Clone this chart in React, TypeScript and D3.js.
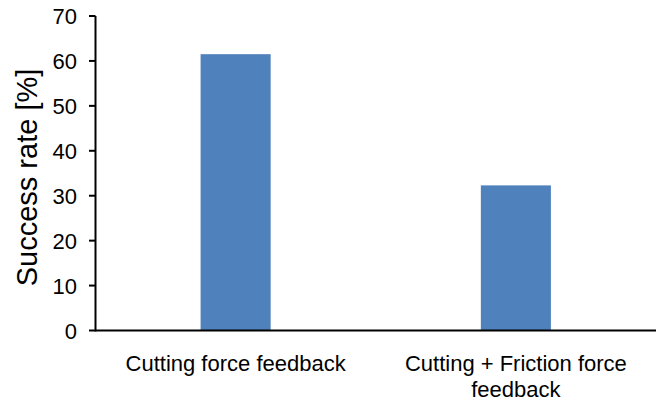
import { useMemo } from "react";
import * as d3 from "d3";

const WIDTH = 658;
const HEIGHT = 403;

const categories = ["Cutting force feedback", "Cutting + Friction force feedback"];
// wrapped label lines as they appear under each bar
const categoryLines = [["Cutting force feedback"], ["Cutting + Friction force", "feedback"]];
const successRate = [61.5, 32.3];
const yTicks = [0, 10, 20, 30, 40, 50, 60, 70];

const FONT = "'Liberation Sans', Arial, sans-serif";
const PLOT = { left: 95.5, right: 656, top: 16, bottom: 330.5 };

export default function App() {
    const xScale = useMemo(
        () =>
            d3
                .scaleBand<string>()
                .domain(categories)
                .range([PLOT.left, PLOT.right])
                .paddingInner(0.75)
                .paddingOuter(0.375),
        []
    );
    const yScale = useMemo(
        () => d3.scaleLinear().domain([0, 70]).range([PLOT.bottom, PLOT.top]),
        []
    );

    return (
        <svg
            width={WIDTH}
            height={HEIGHT}
            style={{ position: "absolute", left: 0, top: 0, background: "#fff" }}
            fontFamily={FONT}
        >
            {/* bars */}
            {categories.map((c, i) => (
                <rect
                    key={c}
                    x={xScale(c)}
                    y={yScale(successRate[i])}
                    width={xScale.bandwidth()}
                    height={yScale(0) - yScale(successRate[i])}
                    fill="#4F81BD"
                />
            ))}

            {/* y axis */}
            <line
                x1={PLOT.left}
                x2={PLOT.left}
                y1={yScale(70)}
                y2={yScale(0) + 1}
                stroke="#000"
                strokeWidth={2}
            />
            {yTicks.map((t) => (
                <g key={t} transform={`translate(0,${yScale(t)})`}>
                    <line x1={89} x2={PLOT.left} stroke="#000" strokeWidth={2} />
                    <text x={77} dy={8} textAnchor="end" fontSize={22} fill="#000">
                        {t}
                    </text>
                </g>
            ))}

            {/* x axis */}
            <line
                x1={PLOT.left}
                x2={PLOT.right}
                y1={yScale(0)}
                y2={yScale(0)}
                stroke="#000"
                strokeWidth={2}
            />
            {categories.map((c, i) => (
                <text
                    key={c}
                    x={(xScale(c) as number) + xScale.bandwidth() / 2}
                    y={371}
                    textAnchor="middle"
                    fontSize={22}
                    fill="#000"
                >
                    {categoryLines[i].map((line, j) => (
                        <tspan
                            key={j}
                            x={(xScale(c) as number) + xScale.bandwidth() / 2}
                            dy={j === 0 ? 0 : 26}
                        >
                            {line}
                        </tspan>
                    ))}
                </text>
            ))}

            {/* y axis title */}
            <text
                transform="translate(37,177.5) rotate(-90)"
                textAnchor="middle"
                fontSize={29}
                fill="#000"
            >
                Success rate [%]
            </text>
        </svg>
    );
}
